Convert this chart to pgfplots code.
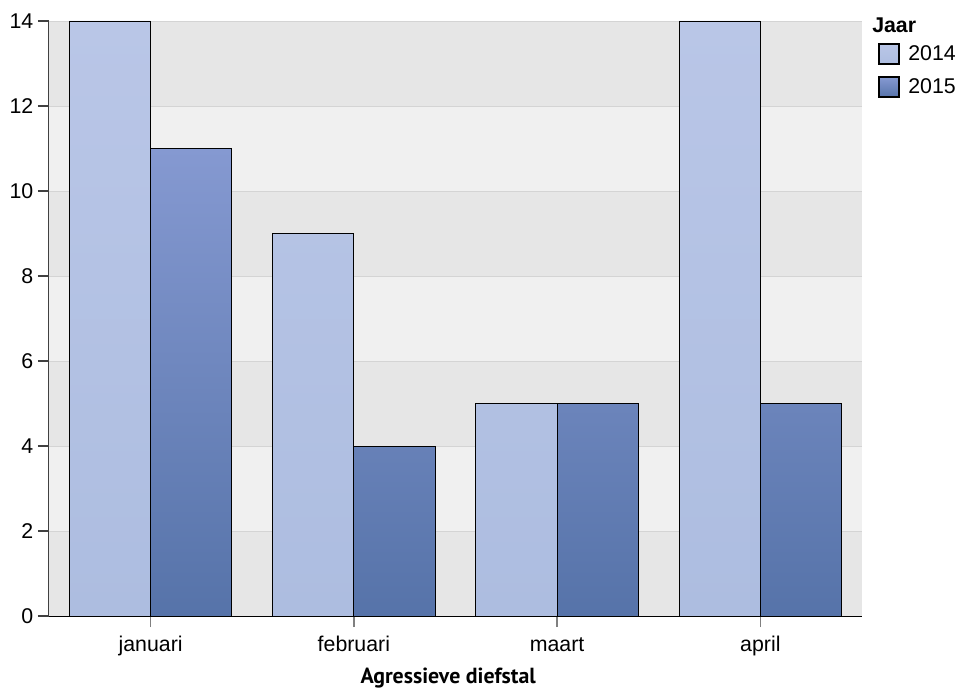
\documentclass[border=0pt]{standalone}
\usepackage{pgfplots}
\pgfplotsset{compat=1.18}
\usepackage{fontspec}
\setmainfont{Liberation Sans}
\newfontfamily\titlefont{PT Sans}
\definecolor{ctop}{HTML}{B9C6E7}
\definecolor{cbot}{HTML}{ADBDE0}
\definecolor{dtop}{HTML}{8599D1}
\definecolor{dbot}{HTML}{5673A9}
\definecolor{banddark}{HTML}{E6E6E6}
\definecolor{bandlight}{HTML}{F0F0F0}
\definecolor{gridc}{HTML}{D4D4D4}
\definecolor{axc}{HTML}{404040}
\begin{document}
\begin{tikzpicture}
\useasboundingbox (0pt,0pt) rectangle (720.75pt,517.5pt);
\begin{axis}[
  at={(36.75pt,55.5pt)}, anchor=south west,
  scale only axis, width=609.75pt, height=446.25pt,
  xmin=-0.5, xmax=3.5, ymin=0, ymax=14,
  axis x line*=bottom,
  axis y line*=left,
  x axis line style={black, line width=0.8pt, -},
  y axis line style={axc, line width=0.8pt, -},
  xtick={0,1,2,3},
  xticklabels={januari,februari,maart,april},
  ytick={0,2,4,6,8,10,12,14},
  tick align=outside,
  major tick length=8.25pt,
  tick style={axc, line width=0.8pt},
  x tick style={gray, line width=1pt},
  x tick label style={anchor=base, yshift=-18pt},
  /pgf/number format/assume math mode=true,
  ticklabel style={font=\fontsize{16}{19}\selectfont},
  xlabel={\titlefont\bfseries Agressieve diefstal},
  xlabel style={font=\fontsize{16.4}{19}\selectfont, at={(axis description cs:0.491,0)}, anchor=base, yshift=-50.25pt},
  clip=false,
  legend style={at={(rel axis cs:1.0197,0.963)}, anchor=north west, draw=none, fill=none,
    font=\fontsize{16}{19}\selectfont, row sep=8pt, inner sep=0pt,
    /tikz/every odd column/.append style={column sep=4pt}},
  legend cell align=left,
  legend image code/.code={\draw[#1, draw=black, line width=1.5pt] (0pt,-7.5pt) rectangle (15pt,7.5pt);},
]
\fill[banddark] (axis cs:-0.5,0) rectangle (axis cs:3.5,2);
\fill[bandlight] (axis cs:-0.5,2) rectangle (axis cs:3.5,4);
\fill[banddark] (axis cs:-0.5,4) rectangle (axis cs:3.5,6);
\fill[bandlight] (axis cs:-0.5,6) rectangle (axis cs:3.5,8);
\fill[banddark] (axis cs:-0.5,8) rectangle (axis cs:3.5,10);
\fill[bandlight] (axis cs:-0.5,10) rectangle (axis cs:3.5,12);
\fill[banddark] (axis cs:-0.5,12) rectangle (axis cs:3.5,14);
\draw[gridc, line width=0.6pt] (axis cs:-0.5,2) -- (axis cs:3.5,2);
\draw[gridc, line width=0.6pt] (axis cs:-0.5,4) -- (axis cs:3.5,4);
\draw[gridc, line width=0.6pt] (axis cs:-0.5,6) -- (axis cs:3.5,6);
\draw[gridc, line width=0.6pt] (axis cs:-0.5,8) -- (axis cs:3.5,8);
\draw[gridc, line width=0.6pt] (axis cs:-0.5,10) -- (axis cs:3.5,10);
\draw[gridc, line width=0.6pt] (axis cs:-0.5,12) -- (axis cs:3.5,12);
\draw[gridc, line width=0.6pt] (axis cs:-0.5,14) -- (axis cs:3.5,14);
\addplot[ybar, bar width=0.4, bar shift=-0.2, draw=black, line width=0.7pt,
  top color=ctop, bottom color=cbot] coordinates {(0,14) (1,9) (2,5) (3,14)};
\addlegendentry{2014}
\addplot[ybar, bar width=0.4, bar shift=0.2, draw=black, line width=0.7pt,
  top color=dtop, bottom color=dbot] coordinates {(0,11) (1,4) (2,5) (3,5)};
\addlegendentry{2015}
\node[anchor=base west, font=\fontsize{16}{19}\selectfont\bfseries, inner sep=0pt]
  at (rel axis cs:1.0123,0.98) {Jaar};
\end{axis}
\end{tikzpicture}
\end{document}
